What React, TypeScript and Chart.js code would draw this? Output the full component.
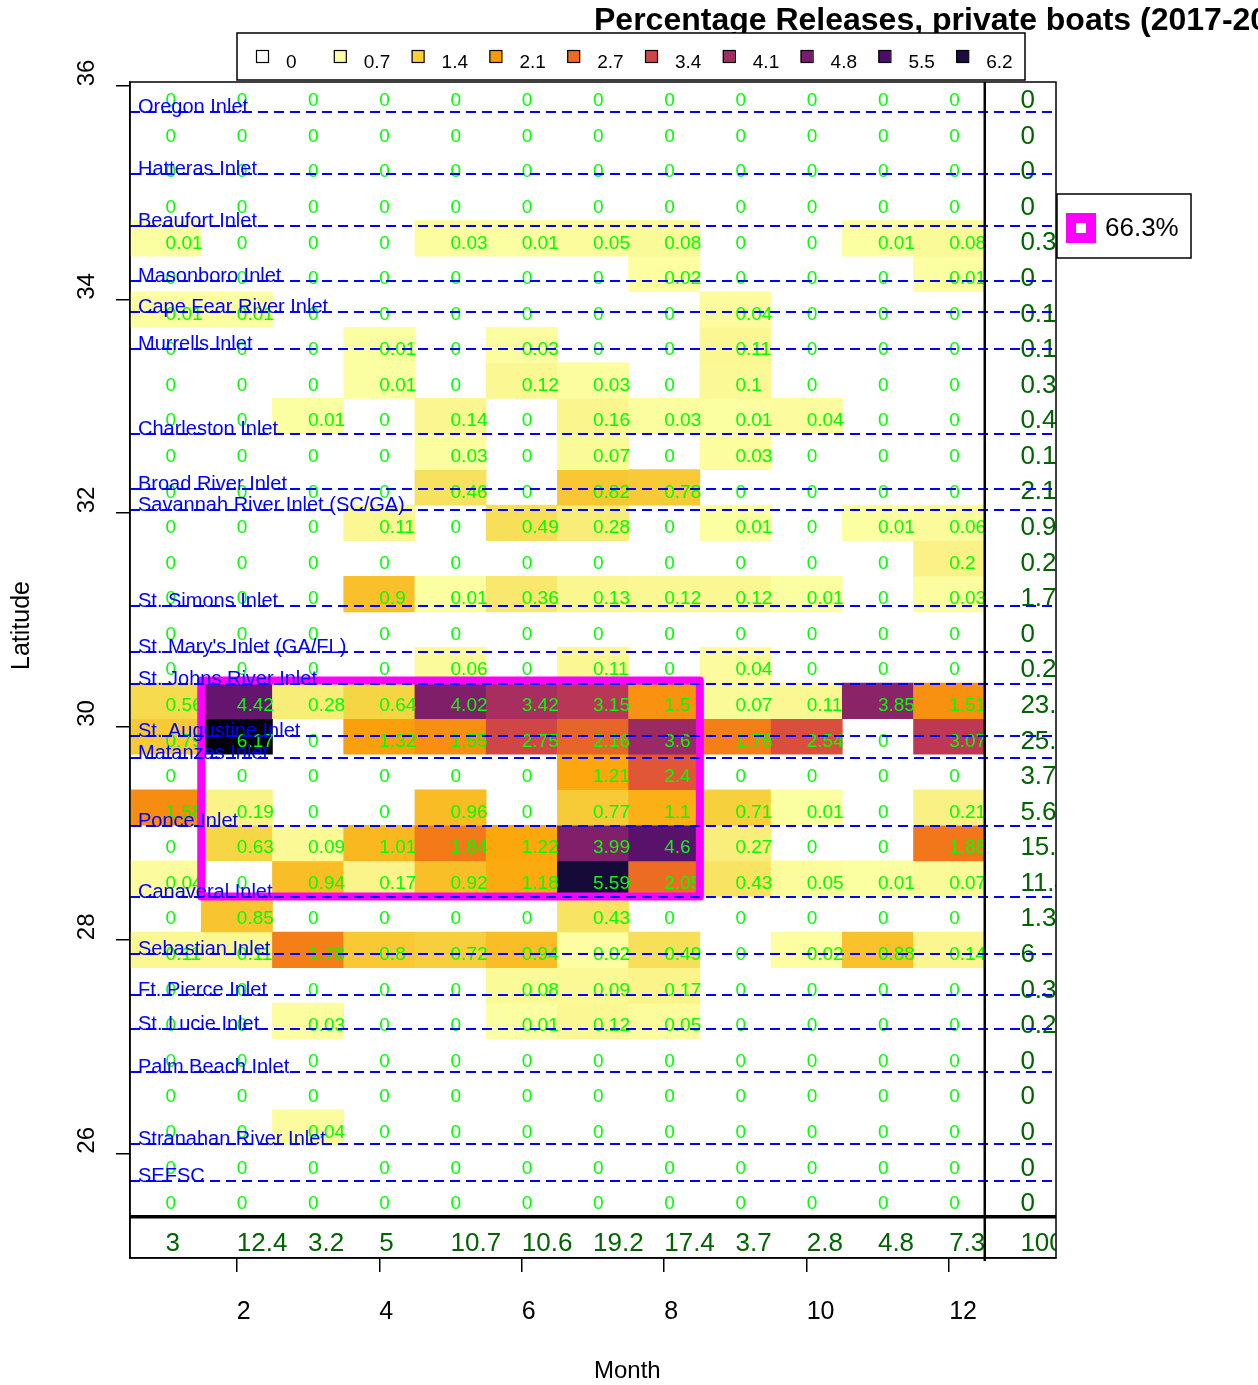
import React, { useEffect, useRef } from 'react';
import { Chart, registerables } from 'chart.js';

Chart.register(...registerables);

const FONT = '"Liberation Sans", Arial, Helvetica, sans-serif';

// ---- data ----
const MONTHS = [1, 2, 3, 4, 5, 6, 7, 8, 9, 10, 11, 12];
const TOTAL_MONTH = 13;

// latitude of each cell row (centre), top to bottom
const ROW_LATS = [
  35.906, 35.573, 35.24, 34.906, 34.573, 34.24, 33.906, 33.573, 33.24, 32.906, 32.573,
  32.24, 31.906, 31.573, 31.24, 30.906, 30.573, 30.24, 29.906, 29.573, 29.24, 28.906,
  28.573, 28.24, 27.906, 27.573, 27.24, 26.906, 26.573, 26.24, 25.906, 25.573,
];
const ROW_HALF = 1 / 6;

// percentage releases per latitude row (top to bottom) and month
const CELL_VALUES: number[][] = [
  [0, 0, 0, 0, 0, 0, 0, 0, 0, 0, 0, 0],
  [0, 0, 0, 0, 0, 0, 0, 0, 0, 0, 0, 0],
  [0, 0, 0, 0, 0, 0, 0, 0, 0, 0, 0, 0],
  [0, 0, 0, 0, 0, 0, 0, 0, 0, 0, 0, 0],
  [0.01, 0, 0, 0, 0.03, 0.01, 0.05, 0.08, 0, 0, 0.01, 0.08],
  [0, 0, 0, 0, 0, 0, 0, 0.02, 0, 0, 0, 0.01],
  [0.01, 0.01, 0, 0, 0, 0, 0, 0, 0.04, 0, 0, 0],
  [0, 0, 0, 0.01, 0, 0.03, 0, 0, 0.11, 0, 0, 0],
  [0, 0, 0, 0.01, 0, 0.12, 0.03, 0, 0.1, 0, 0, 0],
  [0, 0, 0.01, 0, 0.14, 0, 0.16, 0.03, 0.01, 0.04, 0, 0],
  [0, 0, 0, 0, 0.03, 0, 0.07, 0, 0.03, 0, 0, 0],
  [0, 0, 0, 0, 0.46, 0, 0.82, 0.78, 0, 0, 0, 0],
  [0, 0, 0, 0.11, 0, 0.49, 0.28, 0, 0.01, 0, 0.01, 0.06],
  [0, 0, 0, 0, 0, 0, 0, 0, 0, 0, 0, 0.2],
  [0, 0, 0, 0.9, 0.01, 0.36, 0.13, 0.12, 0.12, 0.01, 0, 0.03],
  [0, 0, 0, 0, 0, 0, 0, 0, 0, 0, 0, 0],
  [0, 0, 0, 0, 0.06, 0, 0.11, 0, 0.04, 0, 0, 0],
  [0.56, 4.42, 0.28, 0.64, 4.02, 3.42, 3.15, 1.5, 0.07, 0.11, 3.85, 1.51],
  [0.79, 6.17, 0, 1.32, 1.55, 2.75, 2.16, 3.6, 1.78, 2.54, 0, 3.07],
  [0, 0, 0, 0, 0, 0, 1.21, 2.4, 0, 0, 0, 0],
  [1.58, 0.19, 0, 0, 0.96, 0, 0.77, 1.1, 0.71, 0.01, 0, 0.21],
  [0, 0.63, 0.09, 1.01, 1.84, 1.22, 3.99, 4.6, 0.27, 0, 0, 1.88],
  [0.04, 0, 0.94, 0.17, 0.92, 1.18, 5.59, 2.05, 0.43, 0.05, 0.01, 0.07],
  [0, 0.85, 0, 0, 0, 0, 0.43, 0, 0, 0, 0, 0],
  [0.11, 0.11, 1.78, 0.8, 0.72, 0.94, 0.02, 0.49, 0, 0.02, 0.88, 0.14],
  [0, 0, 0, 0, 0, 0.08, 0.09, 0.17, 0, 0, 0, 0],
  [0, 0, 0.03, 0, 0, 0.01, 0.12, 0.05, 0, 0, 0, 0],
  [0, 0, 0, 0, 0, 0, 0, 0, 0, 0, 0, 0],
  [0, 0, 0, 0, 0, 0, 0, 0, 0, 0, 0, 0],
  [0, 0, 0.04, 0, 0, 0, 0, 0, 0, 0, 0, 0],
  [0, 0, 0, 0, 0, 0, 0, 0, 0, 0, 0, 0],
  [0, 0, 0, 0, 0, 0, 0, 0, 0, 0, 0, 0],
];

const ROW_TOTALS = [
  0, 0, 0, 0, 0.3, 0, 0.1, 0.1, 0.3, 0.4, 0.1, 2.1, 0.9, 0.2, 1.7, 0, 0.2, 23.5, 25.6, 3.7,
  5.6, 15.5, 11.4, 1.3, 6, 0.3, 0.2, 0, 0, 0, 0, 0,
];
const MONTH_TOTALS = [3, 12.4, 3.2, 5, 10.7, 10.6, 19.2, 17.4, 3.7, 2.8, 4.8, 7.3];
const GRAND_TOTAL = 100;
const TOTALS_ROW_LAT = 25.15;
const TOTALS_SEPARATOR_LAT = 25.406;

const INLET_NAMES = [
  'Oregon Inlet', 'Hatteras Inlet', 'Beaufort Inlet', 'Masonboro Inlet', 'Cape Fear River Inlet',
  'Murrells Inlet', 'Charleston Inlet', 'Broad River Inlet', 'Savannah River Inlet (SC/GA)',
  'St. Simons Inlet', "St. Mary's Inlet (GA/FL)", 'St. Johns River Inlet', 'St. Augustine Inlet',
  'Matanzas Inlet', 'Ponce Inlet', 'Canaveral Inlet', 'Sebastian Inlet', 'Ft. Pierce Inlet',
  'St. Lucie Inlet', 'Palm Beach Inlet', 'Stranahan River Inlet', 'SEFSC',
];
const INLET_LATS = [
  35.76, 35.173, 34.688, 34.17, 33.879, 33.536, 32.739, 32.224, 32.027, 31.128, 30.7, 30.4,
  29.914, 29.7, 29.067, 28.405, 27.868, 27.483, 27.165, 26.765, 26.09, 25.736,
];

const HIGHLIGHT_MONTHS = [1.5, 8.5];
const HIGHLIGHT_LATS = [28.405, 30.43];
const HIGHLIGHT_SHARE = '66.3%';

const LEGEND_BREAKS = ['0', '0.7', '1.4', '2.1', '2.7', '3.4', '4.1', '4.8', '5.5', '6.2'];
const LEGEND_COLORS = [
  '#FFFFFF', '#FCFFA4', '#F7D03C', '#FB9A06', '#ED6925', '#CF4446', '#A52C60', '#781C6D',
  '#4B0C6B', '#1B0C42',
];
const COLOR_MAX = 6.2;

const X_TICKS = [2, 4, 6, 8, 10, 12];
const Y_TICKS = [26, 28, 30, 32, 34, 36];
const X_RANGE = [0.5, 13.5];
const Y_RANGE = [25.019, 36.0375];

const TITLE = 'Percentage Releases, private boats (2017-2021)';

// ---- colour ramp (inferno) ----
const INFERNO = [
  '#000004', '#160B39', '#420A68', '#6A176E', '#932667', '#BC3754', '#DD513A', '#F37819',
  '#FCA50A', '#F6D746', '#FCFFA4',
];
function hexToRgb(h: string) {
  return [parseInt(h.slice(1, 3), 16), parseInt(h.slice(3, 5), 16), parseInt(h.slice(5, 7), 16)];
}
function inferno(t: number) {
  const tt = Math.max(0, Math.min(1, t)) * (INFERNO.length - 1);
  const i = Math.min(Math.floor(tt), INFERNO.length - 2);
  const f = tt - i;
  const a = hexToRgb(INFERNO[i]);
  const b = hexToRgb(INFERNO[i + 1]);
  const c = a.map((v, k) => Math.round(v + (b[k] - v) * f));
  return `rgb(${c[0]},${c[1]},${c[2]})`;
}
function cellColor(v: number) {
  if (v <= 0) return 'rgba(255,255,255,0)';
  return inferno(1 - Math.min(v / COLOR_MAX, 1));
}

const overlayPlugin = {
  id: 'overlay',
  afterDraw(chart: any) {
    const { ctx, chartArea: a } = chart;
    const x = chart.scales.x;
    const y = chart.scales.y;
    ctx.save();
    ctx.beginPath();
    ctx.rect(a.left, a.top, a.right - a.left, a.bottom - a.top);
    ctx.clip();

    // cell values
    ctx.textAlign = 'left';
    ctx.textBaseline = 'middle';
    ctx.font = `19px ${FONT}`;
    ctx.fillStyle = '#00FF00';
    CELL_VALUES.forEach((row, i) => {
      const py = y.getPixelForValue(ROW_LATS[i]) + 5;
      row.forEach((v, j) => ctx.fillText(String(v), x.getPixelForValue(MONTHS[j]), py));
    });

    // totals
    ctx.font = `26px ${FONT}`;
    ctx.fillStyle = '#006400';
    ROW_TOTALS.forEach((v, i) => {
      ctx.fillText(String(v), x.getPixelForValue(TOTAL_MONTH), y.getPixelForValue(ROW_LATS[i]) + 5);
    });
    const ty = y.getPixelForValue(TOTALS_ROW_LAT);
    MONTH_TOTALS.forEach((v, j) => ctx.fillText(String(v), x.getPixelForValue(MONTHS[j]), ty));
    ctx.fillText(String(GRAND_TOTAL), x.getPixelForValue(TOTAL_MONTH), ty);

    // highlight rectangle
    const hx0 = x.getPixelForValue(HIGHLIGHT_MONTHS[0]);
    const hx1 = x.getPixelForValue(HIGHLIGHT_MONTHS[1]);
    const hy0 = y.getPixelForValue(HIGHLIGHT_LATS[1]);
    const hy1 = y.getPixelForValue(HIGHLIGHT_LATS[0]);
    ctx.strokeStyle = '#FF00FF';
    ctx.lineWidth = 8;
    ctx.lineJoin = 'round';
    ctx.strokeRect(hx0, hy0, hx1 - hx0, hy1 - hy0);

    // inlet lines and labels
    ctx.strokeStyle = '#0000FF';
    ctx.lineWidth = 2;
    ctx.setLineDash([10, 6]);
    INLET_LATS.forEach((lat) => {
      const py = Math.round(y.getPixelForValue(lat));
      ctx.beginPath();
      ctx.moveTo(a.left, py);
      ctx.lineTo(a.right, py);
      ctx.stroke();
    });
    ctx.setLineDash([]);
    ctx.font = `20px ${FONT}`;
    ctx.fillStyle = '#0000FF';
    ctx.textBaseline = 'alphabetic';
    INLET_LATS.forEach((lat, i) => {
      ctx.fillText(INLET_NAMES[i], a.left + 8, y.getPixelForValue(lat) + 1);
    });
    ctx.restore();

    // separators and frame
    ctx.save();
    ctx.strokeStyle = '#000';
    ctx.lineWidth = 2.5;
    const vx = x.getPixelForValue(12.5);
    ctx.beginPath();
    ctx.moveTo(vx, a.top);
    ctx.lineTo(vx, a.bottom + 3);
    ctx.stroke();
    ctx.lineWidth = 3.5;
    const hy = y.getPixelForValue(TOTALS_SEPARATOR_LAT);
    ctx.beginPath();
    ctx.moveTo(a.left, hy);
    ctx.lineTo(a.right, hy);
    ctx.stroke();
    ctx.lineWidth = 1.5;
    ctx.strokeRect(a.left, a.top, a.right - a.left, a.bottom - a.top);

    // title
    ctx.fillStyle = '#000';
    ctx.textAlign = 'left';
    ctx.textBaseline = 'alphabetic';
    ctx.font = `bold 32px ${FONT}`;
    ctx.fillText(TITLE, 594, 30);

    // axis titles
    ctx.font = `24px ${FONT}`;
    ctx.textBaseline = 'middle';
    ctx.fillText('Month', 594, 1371);
    ctx.save();
    ctx.translate(22, 670);
    ctx.rotate(-Math.PI / 2);
    ctx.font = `25px ${FONT}`;
    ctx.fillText('Latitude', 0, 0);
    ctx.restore();

    // colour legend
    ctx.fillStyle = '#fff';
    ctx.fillRect(237, 33, 788, 47);
    ctx.strokeStyle = '#000';
    ctx.lineWidth = 1.5;
    ctx.strokeRect(237, 33, 788, 47);
    ctx.font = `19px ${FONT}`;
    LEGEND_BREAKS.forEach((lab, i) => {
      const sx = 256 + 77.8 * i;
      ctx.fillStyle = LEGEND_COLORS[i];
      ctx.fillRect(sx, 50, 12, 12);
      ctx.lineWidth = 1.2;
      ctx.strokeStyle = '#000';
      ctx.strokeRect(sx + 0.5, 50.5, 12, 12);
      ctx.fillStyle = '#000';
      ctx.fillText(lab, sx + 30, 63);
    });

    // highlight share legend
    ctx.fillStyle = '#fff';
    ctx.fillRect(1057, 194, 134, 64);
    ctx.strokeStyle = '#000';
    ctx.lineWidth = 1.5;
    ctx.strokeRect(1057, 194, 134, 64);
    ctx.strokeStyle = '#FF00FF';
    ctx.lineWidth = 10;
    ctx.strokeRect(1071, 218, 20, 20);
    ctx.fillStyle = '#000';
    ctx.font = `26px ${FONT}`;
    ctx.fillText(HIGHLIGHT_SHARE, 1105, 229);
    ctx.restore();
  },
};

export default function App() {
  const canvasRef = useRef<HTMLCanvasElement>(null);

  useEffect(() => {
    const canvas = canvasRef.current;
    if (!canvas) return;
    const datasets = CELL_VALUES.map((row, i) => ({
      label: String(ROW_LATS[i]),
      data: MONTHS.map((m) => ({ x: m, y: [ROW_LATS[i] - ROW_HALF, ROW_LATS[i] + ROW_HALF] })),
      backgroundColor: row.map(cellColor),
      borderWidth: 0,
      grouped: false,
      barPercentage: 1,
      categoryPercentage: 1,
    }));

    const tickFont = { family: FONT, size: 24 };
    const chart = new Chart(canvas, {
      type: 'bar',
      data: { datasets: datasets as any },
      options: {
        animation: false,
        responsive: false,
        maintainAspectRatio: false,
        devicePixelRatio: 1,
        layout: { padding: { left: 0, top: 82, right: 202, bottom: 0 } },
        plugins: {
          legend: { display: false },
          tooltip: { enabled: false },
          title: { display: false },
        },
        scales: {
          x: {
            type: 'linear',
            min: X_RANGE[0],
            max: X_RANGE[1],
            offset: false,
            bounds: 'data',
            afterBuildTicks: (s: any) => {
              s.ticks = X_TICKS.map((v) => ({ value: v }));
            },
            afterFit: (s: any) => {
              s.height = 127;
            },
            ticks: {
              align: 'start',
              padding: 25,
              font: { family: FONT, size: 25 },
              color: '#000',
              autoSkip: false,
              minRotation: 0,
              maxRotation: 0,
              callback: (v: any) => String(v),
            },
            grid: {
              offset: false,
              drawOnChartArea: false,
              drawTicks: true,
              tickLength: 14,
              color: '#000',
              lineWidth: 1.5,
            },
            border: { display: true, color: '#000', width: 1.5 },
          },
          y: {
            type: 'linear',
            min: Y_RANGE[0],
            max: Y_RANGE[1],
            beginAtZero: false,
            bounds: 'data',
            afterBuildTicks: (s: any) => {
              s.ticks = Y_TICKS.map((v) => ({ value: v }));
            },
            afterFit: (s: any) => {
              s.width = 130;
            },
            ticks: {
              minRotation: 90,
              maxRotation: 90,
              crossAlign: 'center',
              labelOffset: -13,
              padding: 15,
              font: tickFont,
              color: '#000',
              autoSkip: false,
              callback: (v: any) => String(v),
            },
            grid: {
              drawOnChartArea: false,
              drawTicks: true,
              tickLength: 14,
              color: '#000',
              lineWidth: 1.5,
            },
            border: { display: true, color: '#000', width: 1.5 },
          },
        },
      } as any,
      plugins: [overlayPlugin],
    });
    return () => chart.destroy();
  }, []);

  return (
    <div style={{ position: 'absolute', left: 0, top: 0, width: 1258, height: 1385, background: '#fff' }}>
      <canvas ref={canvasRef} width={1258} height={1385} style={{ display: 'block', width: 1258, height: 1385 }} />
    </div>
  );
}
